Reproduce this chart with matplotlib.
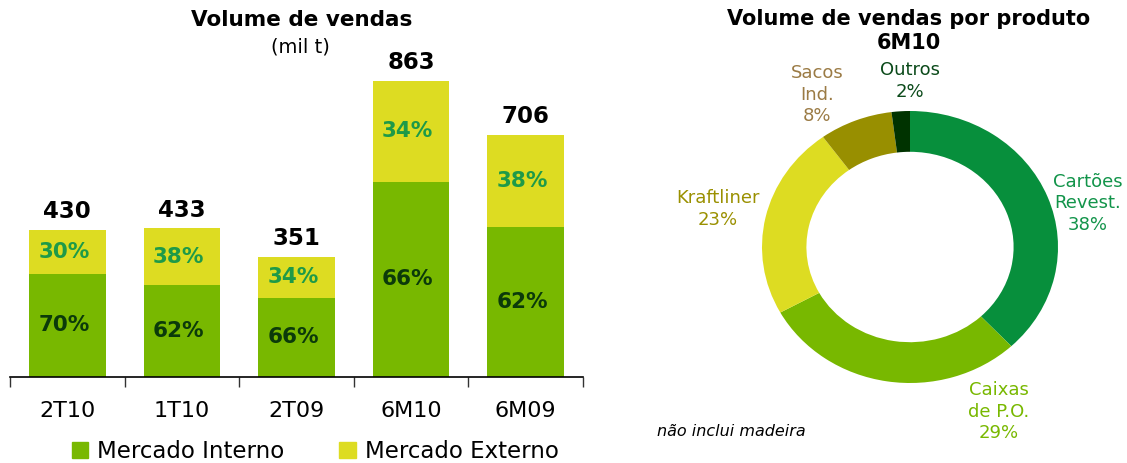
import matplotlib
matplotlib.use("Agg")
import matplotlib.pyplot as plt
from matplotlib.patches import Patch

# bar chart data
periods = ["2T10", "1T10", "2T09", "6M10", "6M09"]
totals = [430, 433, 351, 863, 706]
share_interno = [70, 62, 66, 66, 62]
share_externo = [30, 38, 34, 34, 38]

# donut data
produtos = ["Cartões\nRevest.", "Caixas\nde P.O.", "Kraftliner", "Sacos\nInd.", "Outros"]
produto_pct = [38, 29, 23, 8, 2]

W, H = 1127, 463
GREEN = "#78B800"
YELLOW = "#DDDC22"


def main():
    fig = plt.figure(figsize=(W / 100, H / 100), dpi=100)
    fig.patch.set_facecolor("white")

    # ---- stacked bars ----
    ax = fig.add_axes([10 / W, 86 / H, 573 / W, 343 / H])
    x = list(range(len(periods)))
    interno = [t * s / 100 for t, s in zip(totals, share_interno)]
    externo = [t - i for t, i in zip(totals, interno)]
    ax.bar(x, interno, width=0.67, color=GREEN, linewidth=0)
    ax.bar(x, externo, bottom=interno, width=0.67, color=YELLOW, linewidth=0)

    for i in x:
        ax.text(i - 0.03, interno[i] / 2, f"{share_interno[i]}%", ha="center", va="center",
                fontsize=15.5, fontweight="bold", color="#0B3A0A")
        ax.text(i - 0.03, interno[i] + externo[i] / 2, f"{share_externo[i]}%", ha="center",
                va="center", fontsize=15.5, fontweight="bold", color="#1E9A48")
        ax.annotate(str(totals[i]), (i, totals[i]), xytext=(0, 5), textcoords="offset points",
                    ha="center", va="bottom", fontsize=16.5, fontweight="bold", color="black")

    ax.set_xlim(-0.5, len(periods) - 0.5)
    ax.set_ylim(0, 1000)
    for s in ["top", "right", "left"]:
        ax.spines[s].set_visible(False)
    ax.spines["bottom"].set_linewidth(1.2)
    ax.set_yticks([])
    ax.set_xticks([i - 0.5 for i in range(len(periods) + 1)])
    ax.set_xticklabels([])
    ax.tick_params(axis="x", which="major", length=7, width=1, color="#333333")
    ax.set_xticks(x, minor=True)
    ax.set_xticklabels(periods, minor=True, fontsize=16)
    ax.tick_params(axis="x", which="minor", length=0, pad=17)

    fig.text(302 / W, 1 - 20 / H, "Volume de vendas", ha="center", va="center",
             fontsize=15.5, fontweight="bold")
    fig.text(300 / W, 1 - 47 / H, "(mil t)", ha="center", va="center", fontsize=14)

    handles = [Patch(color=GREEN, label="Mercado Interno"),
               Patch(color=YELLOW, label="Mercado Externo")]
    fig.legend(handles=handles, loc="upper left", bbox_to_anchor=(72 / W, 1 - 440 / H),
               ncol=2, frameon=False, fontsize=16.5, handlelength=0.7, handleheight=0.7,
               handletextpad=0.4, columnspacing=2.4, borderpad=0, borderaxespad=0)

    # ---- donut ----
    rx, ry = 148, 136
    cx, cy = 910, 247
    pax = fig.add_axes([(cx - 1.5 * rx) / W, (H - cy - 1.5 * ry) / H, 3 * rx / W, 3 * ry / H])
    colors = ["#078F3C", GREEN, YELLOW, "#988F00", "#003300"]
    pax.pie(produto_pct, colors=colors, startangle=90, counterclock=False,
            wedgeprops=dict(width=0.3, linewidth=0))
    pax.set_aspect("auto")
    pax.set_xlim(-1.5, 1.5)
    pax.set_ylim(-1.5, 1.5)

    label_pos = [(1.20, 0.32), (0.60, -1.21), (-1.30, 0.28), (-0.63, 1.12), (0.0, 1.22)]
    label_col = ["#12944A", "#78B800", "#9A9000", "#9B7B45", "#0B4A1A"]
    for name, pct, (lx, ly), c in zip(produtos, produto_pct, label_pos, label_col):
        pax.text(lx, ly, f"{name}\n{pct}%", ha="center", va="center", fontsize=13,
                 color=c, linespacing=1.25)

    fig.text(909 / W, 1 - 19 / H, "Volume de vendas por produto", ha="center", va="center",
             fontsize=15, fontweight="bold")
    fig.text(909 / W, 1 - 43 / H, "6M10", ha="center", va="center",
             fontsize=15, fontweight="bold")
    fig.text(657 / W, 1 - 432 / H, "não inclui madeira", ha="left", va="center",
             fontsize=11.5, style="italic")

    fig.savefig("out.png", dpi=100)


if __name__ == "__main__":
    main()
